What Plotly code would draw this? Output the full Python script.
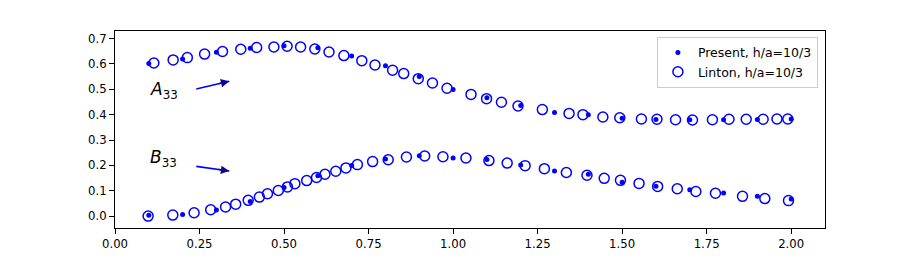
import plotly.graph_objects as go

# ---- data ----
x_present = [0.1, 0.2, 0.3, 0.4, 0.5, 0.6, 0.7, 0.8, 0.9, 1.0,
             1.1, 1.2, 1.3, 1.4, 1.5, 1.6, 1.7, 1.8, 1.9, 2.0]
a33_present = [0.602, 0.620, 0.646, 0.662, 0.672, 0.664, 0.631, 0.593, 0.551, 0.499,
               0.467, 0.436, 0.409, 0.400, 0.386, 0.381, 0.380, 0.380, 0.381, 0.383]
b33_present = [0.003, 0.006, 0.024, 0.058, 0.113, 0.159, 0.200, 0.225, 0.238, 0.229,
               0.223, 0.201, 0.178, 0.165, 0.133, 0.118, 0.104, 0.091, 0.078, 0.067]

x_linton_a = [0.115, 0.172, 0.214, 0.265, 0.318, 0.372, 0.419, 0.470, 0.509, 0.549,
              0.591, 0.633, 0.677, 0.730, 0.769, 0.821, 0.854, 0.897, 0.939, 0.982,
              1.053, 1.099, 1.143, 1.192, 1.264, 1.343, 1.384, 1.443, 1.493, 1.557,
              1.603, 1.658, 1.708, 1.767, 1.816, 1.867, 1.917, 1.958, 1.990]
a33_linton = [0.604, 0.616, 0.625, 0.639, 0.649, 0.658, 0.665, 0.667, 0.670, 0.667,
              0.659, 0.647, 0.633, 0.613, 0.596, 0.575, 0.562, 0.542, 0.525, 0.504,
              0.480, 0.463, 0.449, 0.434, 0.420, 0.405, 0.400, 0.391, 0.388, 0.383,
              0.382, 0.380, 0.379, 0.380, 0.382, 0.382, 0.382, 0.383, 0.383]

x_linton_b = [0.098, 0.171, 0.234, 0.283, 0.327, 0.357, 0.394, 0.427, 0.451, 0.483,
              0.510, 0.532, 0.567, 0.596, 0.621, 0.653, 0.683, 0.717, 0.762, 0.808,
              0.862, 0.916, 0.970, 1.038, 1.106, 1.160, 1.213, 1.270, 1.335, 1.396,
              1.447, 1.495, 1.550, 1.605, 1.663, 1.718, 1.776, 1.856, 1.922, 1.992]
b33_linton = [0.000, 0.004, 0.013, 0.025, 0.036, 0.047, 0.062, 0.075, 0.088, 0.101,
              0.115, 0.128, 0.140, 0.152, 0.165, 0.177, 0.190, 0.203, 0.215, 0.222,
              0.233, 0.237, 0.234, 0.229, 0.219, 0.209, 0.199, 0.187, 0.172, 0.161,
              0.149, 0.141, 0.129, 0.117, 0.108, 0.097, 0.090, 0.078, 0.069, 0.061]

x_ticks = [0.0, 0.25, 0.5, 0.75, 1.0, 1.25, 1.5, 1.75, 2.0]
y_ticks = [0.0, 0.1, 0.2, 0.3, 0.4, 0.5, 0.6, 0.7]
series_names = ["Present, h/a=10/3", "Linton, h/a=10/3"]

BLUE = "#0000ff"
FONT = "DejaVu Sans"
TICK_SIZE = 11.7
LEGEND_SIZE = 12.5

fig = go.Figure()
fig.add_trace(go.Scatter(x=x_present, y=a33_present, mode="markers", name=series_names[0],
                         legendgroup="p", marker=dict(color=BLUE, size=5, symbol="circle")))
fig.add_trace(go.Scatter(x=x_present, y=b33_present, mode="markers", name=series_names[0],
                         legendgroup="p", showlegend=False,
                         marker=dict(color=BLUE, size=5, symbol="circle")))
fig.add_trace(go.Scatter(x=x_linton_a, y=a33_linton, mode="markers", name=series_names[1],
                         legendgroup="l",
                         marker=dict(color=BLUE, size=10, symbol="circle-open",
                                     line=dict(color=BLUE, width=1.5))))
fig.add_trace(go.Scatter(x=x_linton_b, y=b33_linton, mode="markers", name=series_names[1],
                         legendgroup="l", showlegend=False,
                         marker=dict(color=BLUE, size=10, symbol="circle-open",
                                     line=dict(color=BLUE, width=1.5))))

# labels and arrows
labels = [("<i>A</i><sub>33</sub>", 0.098, 0.444, (0.236, 0.500), (0.338, 0.532)),
          ("<i>B</i><sub>33</sub>", 0.098, 0.172, (0.236, 0.197), (0.338, 0.178))]
for txt, tx, ty, tail, head in labels:
    fig.add_annotation(x=tx, y=ty, xref="x", yref="y", text=txt, showarrow=False,
                       xanchor="left", yanchor="bottom",
                       font=dict(family=FONT, size=17, color="black"))
    fig.add_annotation(x=head[0], y=head[1], ax=tail[0], ay=tail[1],
                       xref="x", yref="y", axref="x", ayref="y", text="",
                       showarrow=True, arrowhead=0, arrowwidth=1.6, arrowcolor=BLUE)
    hx = head[0] - (head[0] - tail[0]) * 0.35
    hy = head[1] - (head[1] - tail[1]) * 0.35
    fig.add_annotation(x=head[0], y=head[1], ax=hx, ay=hy,
                       xref="x", yref="y", axref="x", ayref="y", text="",
                       showarrow=True, arrowhead=2, arrowsize=1.2, arrowwidth=1.4,
                       arrowcolor="#0a0a8a", standoff=0)

axis_common = dict(showline=True, linecolor="black", linewidth=1, mirror=True,
                   ticks="outside", ticklen=5, tickwidth=1, tickcolor="black",
                   showgrid=False, zeroline=False, automargin=False,
                   tickfont=dict(family=FONT, size=TICK_SIZE, color="black"))
fig.update_xaxes(range=[0, 2.1], tickvals=x_ticks, tickformat=".2f", **axis_common)
fig.update_yaxes(range=[-0.047, 0.730], tickvals=y_ticks, tickformat=".1f", **axis_common)

fig.update_layout(
    width=917, height=260,
    margin=dict(l=115, r=92, t=31, b=32),
    plot_bgcolor="white", paper_bgcolor="white",
    font=dict(family=FONT, size=TICK_SIZE, color="black"),
    legend=dict(x=0.99, y=0.97, xanchor="right", yanchor="top",
                bgcolor="rgba(255,255,255,0.8)", bordercolor="#cccccc", borderwidth=1,
                font=dict(family=FONT, size=LEGEND_SIZE), tracegroupgap=0,
                itemwidth=30),
    showlegend=True,
)

fig.write_html("out.html", config={"displayModeBar": False},
               post_script="document.body.style.margin='0';")
